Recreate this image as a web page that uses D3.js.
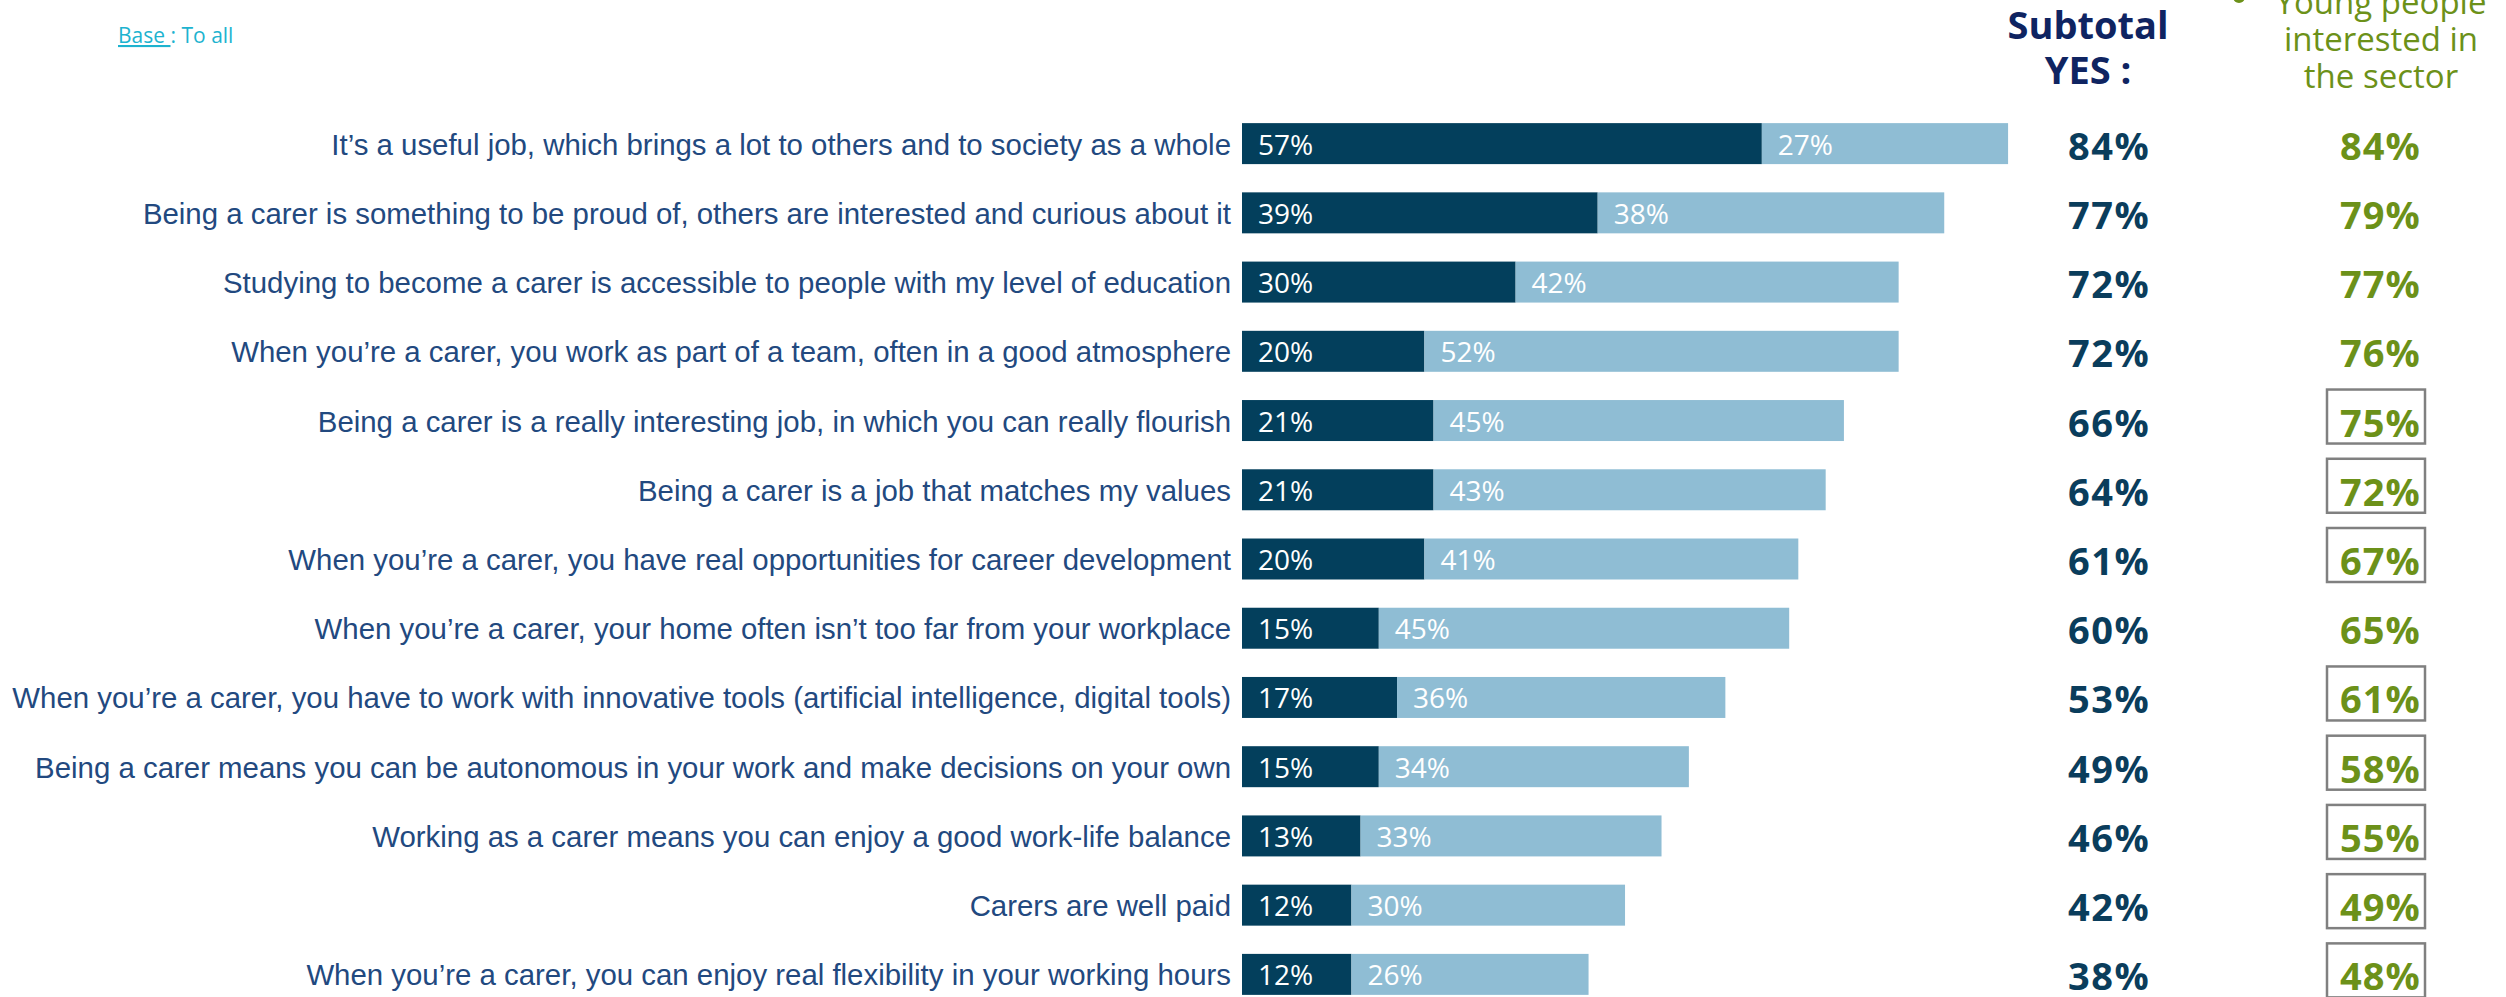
<!DOCTYPE html>
<html>
<head>
<meta charset="utf-8">
<script src="https://cdn.jsdelivr.net/npm/d3@7"></script>
<style>
  html, body { margin: 0; padding: 0; background: #ffffff; }
  svg { display: block; }
</style>
</head>
<body>
<div id="chart"></div>
<script>
// ---- DATA ----
const categories = [
  "It\u2019s a useful job, which brings a lot to others and to society as a whole",
  "Being a carer is something to be proud of, others are interested and curious about it",
  "Studying to become a carer is accessible to people with my level of education",
  "When you\u2019re a carer, you work as part of a team, often in a good atmosphere",
  "Being a carer is a really interesting job, in which you can really flourish",
  "Being a carer is a job that matches my values",
  "When you\u2019re a carer, you have real opportunities for career development",
  "When you\u2019re a carer, your home often isn\u2019t too far from your workplace",
  "When you\u2019re a carer, you have to work with innovative tools (artificial intelligence, digital tools)",
  "Being a carer means you can be autonomous in your work and make decisions on your own",
  "Working as a carer means you can enjoy a good work-life balance",
  "Carers are well paid",
  "When you\u2019re a carer, you can enjoy real flexibility in your working hours"
];
const yesCompletely = [57, 39, 30, 20, 21, 21, 20, 15, 17, 15, 13, 12, 12];
const yesRather     = [27, 38, 42, 52, 45, 43, 41, 45, 36, 34, 33, 30, 26];
const subtotalYes   = [84, 77, 72, 72, 66, 64, 61, 60, 53, 49, 46, 42, 38];
const youngInterested = [84, 79, 77, 76, 75, 72, 67, 65, 61, 58, 55, 49, 48];
const youngHighlighted = [false, false, false, false, true, true, true, false, true, true, true, true, true];
const subtotalHeader = ["Subtotal", "YES :"];
const youngHeader = ["Young people", "interested in", "the sector"];

// ---- LAYOUT ----
const W = 2506, H = 997;
const svg = d3.select("#chart").append("svg")
  .attr("width", W).attr("height", H)
  .attr("viewBox", `0 0 ${W} ${H}`);
svg.append("rect").attr("width", W).attr("height", H).attr("fill", "#ffffff");

const x = d3.scaleLinear().domain([0, 100]).range([1242, 2154]);
const y = d3.scaleBand().domain(d3.range(categories.length))
  .range([109, 1009]).paddingInner(0.408).paddingOuter(0.204);

const rows = categories.map((c, i) => ({
  i, label: c, a: yesCompletely[i], b: yesRather[i],
  sub: subtotalYes[i], young: youngInterested[i], hl: youngHighlighted[i]
}));

const C_DARK = "#033f5c", C_LIGHT = "#8fbdd4", C_LABEL = "#22497f";
const C_SUBHEAD = "#0f2461", C_SUBVAL = "#0a3d5c", C_GREEN = "#6c9119";

// base note
const base = svg.append("text")
  .attr("x", 118).attr("y", 43)
  .attr("font-family", "'Open Sans', sans-serif")
  .attr("font-size", 21).attr("fill", "#1db3cf");
base.append("tspan").attr("text-decoration", "underline").text("Base ");
base.append("tspan").text(": To all");

// category labels
svg.append("g").selectAll("text").data(rows).join("text")
  .attr("x", 1231)
  .attr("y", d => y(d.i) + y.bandwidth() / 2 + 11)
  .attr("text-anchor", "end")
  .attr("font-family", "'Liberation Sans', Arial, sans-serif")
  .attr("font-size", 29.4)
  .attr("fill", C_LABEL)
  .text(d => d.label);

// bars
const g = svg.append("g");
g.selectAll("rect.a").data(rows).join("rect").attr("class", "a")
  .attr("x", x(0)).attr("y", d => y(d.i))
  .attr("width", d => x(d.a) - x(0)).attr("height", y.bandwidth())
  .attr("fill", C_DARK);
g.selectAll("rect.b").data(rows).join("rect").attr("class", "b")
  .attr("x", d => x(d.a)).attr("y", d => y(d.i))
  .attr("width", d => x(d.a + d.b) - x(d.a)).attr("height", y.bandwidth())
  .attr("fill", C_LIGHT);

// bar labels
g.selectAll("text.la").data(rows).join("text").attr("class", "la")
  .attr("x", x(0) + 16)
  .attr("y", d => y(d.i) + y.bandwidth() / 2 + 11)
  .attr("font-family", "'Open Sans', sans-serif")
  .attr("font-size", 28).attr("fill", "#ffffff")
  .text(d => d.a + "%");
g.selectAll("text.lb").data(rows).join("text").attr("class", "lb")
  .attr("x", d => x(d.a) + 16)
  .attr("y", d => y(d.i) + y.bandwidth() / 2 + 11)
  .attr("font-family", "'Open Sans', sans-serif")
  .attr("font-size", 28).attr("fill", "#ffffff")
  .text(d => d.b + "%");

// subtotal header
svg.append("g").selectAll("text").data(subtotalHeader).join("text")
  .attr("x", 2088).attr("y", (d, k) => 39 + k * 45)
  .attr("text-anchor", "middle")
  .attr("font-family", "'Open Sans', sans-serif")
  .attr("font-weight", 700).attr("font-size", 38)
  .attr("fill", C_SUBHEAD)
  .text(d => d);

// subtotal values
svg.append("g").selectAll("text").data(rows).join("text")
  .attr("x", 2068)
  .attr("y", d => y(d.i) + y.bandwidth() / 2 + 16)
  .attr("font-family", "'Open Sans', sans-serif")
  .attr("font-weight", 700).attr("font-size", 38)
  .attr("letter-spacing", 1.5)
  .attr("fill", C_SUBVAL)
  .text(d => d.sub + "%");

// young header (partially cut at top)
svg.append("g").selectAll("text").data(youngHeader).join("text")
  .attr("x", 2381).attr("y", (d, k) => 14 + k * 37)
  .attr("text-anchor", "middle")
  .attr("font-family", "'Open Sans', sans-serif")
  .attr("font-size", 33)
  .attr("fill", C_GREEN)
  .text(d => d);
svg.append("circle").attr("cx", 2239).attr("cy", -3).attr("r", 6).attr("fill", C_GREEN);

// highlight boxes
svg.append("g").selectAll("rect").data(rows.filter(d => d.hl)).join("rect")
  .attr("x", 2327).attr("y", d => y(d.i) + y.bandwidth() / 2 - 31)
  .attr("width", 98).attr("height", 54)
  .attr("fill", "none").attr("stroke", "#808080").attr("stroke-width", 2.5);

// young values
svg.append("g").selectAll("text").data(rows).join("text")
  .attr("x", 2340)
  .attr("y", d => y(d.i) + y.bandwidth() / 2 + 16)
  .attr("font-family", "'Open Sans', sans-serif")
  .attr("font-weight", 700).attr("font-size", 38)
  .attr("letter-spacing", 1)
  .attr("fill", C_GREEN)
  .text(d => d.young + "%");
</script>
</body>
</html>
